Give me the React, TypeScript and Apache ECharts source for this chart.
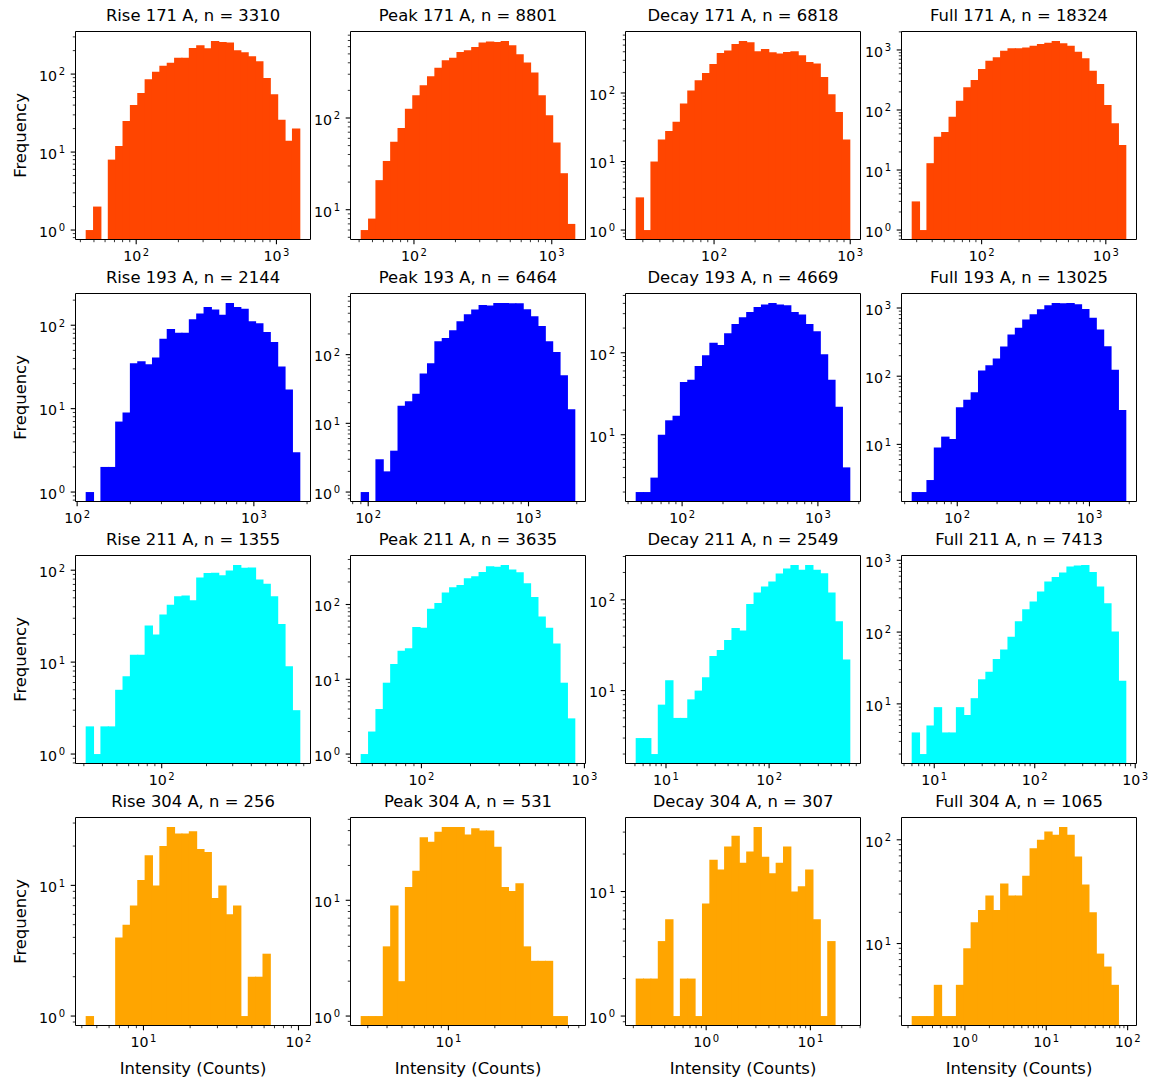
import React, { useEffect, useRef } from "react";
import * as echarts from "echarts";

// ---------- data ----------
const phases = ["Rise", "Peak", "Decay", "Full"];
const wavelengths = ["171", "193", "211", "304"];
const sampleSizes = [
  [3310, 8801, 6818, 18324],
  [2144, 6464, 4669, 13025],
  [1355, 3635, 2549, 7413],
  [256, 531, 307, 1065],
];
const wavelengthColors = ["#ff4500", "#0000ff", "#00ffff", "#ffa500"];

// 29 log-spaced bins per panel: [first edge, last edge] and counts
const rise171Range = [44, 1468];
const rise171 = [1, 2, 0, 8, 12, 25, 40, 57, 86, 107, 128, 140, 162, 162, 216, 235, 214, 266, 258, 255, 202, 190, 169, 146, 89, 55, 26, 14, 20];
const peak171Range = [41.4, 1470];
const peak171 = [6, 8, 21, 34, 55, 78, 126, 177, 227, 285, 354, 426, 455, 525, 547, 595, 664, 681, 674, 692, 621, 495, 402, 313, 177, 107, 54, 25, 7];
const decay171Range = [26.8, 993];
const decay171 = [3, 1, 10, 21, 28, 38, 70, 109, 153, 196, 266, 385, 417, 521, 575, 551, 407, 440, 394, 376, 398, 407, 356, 284, 269, 171, 96, 53, 21];
const full171Range = [27.6, 1449];
const full171 = [3, 1, 13, 36, 43, 77, 143, 239, 316, 482, 664, 755, 975, 1066, 1066, 1094, 1181, 1259, 1325, 1413, 1291, 1181, 937, 726, 452, 271, 121, 60, 26];

const rise193Range = [112.5, 1820];
const rise193 = [1, 0, 2, 2, 7, 9, 35, 37, 34, 41, 69, 90, 81, 81, 118, 138, 166, 154, 134, 185, 166, 158, 112, 106, 83, 63, 32, 17, 3];
const peak193Range = [90.4, 1945];
const peak193 = [1, 0, 3, 2, 4, 18, 21, 27, 53, 75, 156, 175, 226, 306, 386, 452, 528, 517, 565, 565, 559, 559, 457, 361, 261, 156, 109, 50, 16];
const decay193Range = [45.9, 1718];
const decay193 = [2, 2, 3, 10, 15, 17, 44, 47, 69, 93, 132, 124, 173, 225, 271, 315, 362, 387, 405, 387, 380, 315, 292, 225, 183, 96, 47, 22, 4];
const full193Range = [45.6, 1884];
const full193 = [2, 2, 3, 9, 13, 12, 35, 45, 58, 121, 145, 182, 273, 410, 514, 681, 807, 955, 1096, 1186, 1174, 1186, 1132, 966, 721, 485, 276, 124, 32];

const rise211Range = [31.1, 847];
const rise211 = [2, 1, 2, 2, 5, 7, 12, 12, 25, 20, 33, 42, 52, 53, 47, 83, 93, 94, 88, 99, 114, 106, 107, 79, 71, 52, 26, 9, 3];
const peak211Range = [42.7, 873];
const peak211 = [1, 2, 4, 9, 16, 24, 26, 50, 49, 88, 105, 145, 170, 183, 224, 239, 273, 325, 321, 338, 293, 270, 192, 126, 69, 49, 30, 9, 3];
const decay211Range = [5.14, 606];
const decay211 = [3, 3, 2, 7, 13, 5, 5, 8, 10, 14, 24, 28, 36, 49, 46, 90, 120, 140, 159, 195, 221, 242, 214, 242, 214, 196, 120, 58, 22];
const full211Range = [6.03, 806];
const full211 = [4, 2, 5, 9, 4, 4, 9, 7, 12, 22, 28, 42, 57, 86, 141, 208, 267, 367, 506, 587, 674, 817, 844, 861, 689, 431, 253, 102, 21];

const rise304Range = [4.27, 102];
const rise304 = [1, 0, 0, 0, 4, 5, 7, 11, 17, 10, 20, 28, 25, 25, 26, 19, 18, 8, 10, 6, 7, 1, 2, 2, 3, 0, 0, 0, 0];
const peak304Range = [2.72, 66];
const peak304 = [1, 1, 1, 4, 9, 2, 13, 18, 35, 32, 39, 43, 43, 43, 37, 42, 40, 40, 29, 13, 12, 14, 4, 3, 3, 3, 1, 1, 0];
const decay304Range = [0.213, 23.9];
const decay304 = [2, 2, 2, 4, 6, 1, 2, 2, 1, 8, 18, 15, 23, 28, 17, 21, 33, 19, 14, 17, 23, 10, 11, 15, 6, 1, 4, 0, 0];
const full304Range = [0.225, 95];
const full304 = [2, 2, 2, 4, 2, 2, 4, 9, 16, 21, 29, 21, 38, 29, 29, 45, 83, 100, 120, 112, 133, 112, 69, 37, 20, 8, 6, 4, 0];

const histCounts = [
  [rise171, peak171, decay171, full171],
  [rise193, peak193, decay193, full193],
  [rise211, peak211, decay211, full211],
  [rise304, peak304, decay304, full304],
];
const histRanges = [
  [rise171Range, peak171Range, decay171Range, full171Range],
  [rise193Range, peak193Range, decay193Range, full193Range],
  [rise211Range, peak211Range, decay211Range, full211Range],
  [rise304Range, peak304Range, decay304Range, full304Range],
];

const yLabel = "Frequency";
const xLabel = "Intensity (Counts)";

// ---------- layout / style ----------
const FONT = "DejaVu Sans";
const gridLefts = [75.5, 350.5, 625.5, 901.5];
const gridTops = [31.5, 293.5, 555.5, 817.5];
const gridW = 235;
const gridH = 208;
const TICK_FS = 14.2;
const SUP_FS = 10;
const BAR_OVERLAP = 0.5;

const labelRich = {
  b: { fontFamily: FONT, fontSize: TICK_FS, lineHeight: TICK_FS, color: "#000", padding: [3.6, 0, 0, 0] },
  s: { fontFamily: FONT, fontSize: SUP_FS, lineHeight: SUP_FS, color: "#000", verticalAlign: "top", padding: [0, 0, 0, 1.5] },
};

function powerLabel(v: number) {
  const e = Math.log10(v);
  const r = Math.round(e);
  if (Math.abs(e - r) > 1e-6) return "";
  return `{b|10}{s|${r}}`;
}

function logTicks(lo: number, hi: number) {
  const out: number[][] = [];
  const e0 = Math.floor(Math.log10(lo));
  const e1 = Math.ceil(Math.log10(hi));
  for (let e = e0; e <= e1; e++) {
    for (let k = 1; k <= 9; k++) {
      const v = k * Math.pow(10, e);
      if (v >= lo && v <= hi) out.push([v, k === 1 ? 1 : 0]);
    }
  }
  return out;
}

function textEl(text: string, x: number, y: number, size: number, rotation = 0) {
  return {
    type: "text",
    x,
    y,
    rotation,
    silent: true,
    style: {
      text,
      fill: "#000",
      fontSize: size,
      fontFamily: FONT,
      textAlign: "center",
      textVerticalAlign: "middle",
      align: "center",
      verticalAlign: "middle",
    },
  };
}

function buildOption() {
  const grids: any[] = [];
  const xAxes: any[] = [];
  const yAxes: any[] = [];
  const series: any[] = [];
  const texts: any[] = [];

  for (let r = 0; r < 4; r++) {
    for (let c = 0; c < 4; c++) {
      const k = r * 4 + c;
      const counts = histCounts[r][c];
      const [first, last] = histRanges[r][c];
      const l0 = Math.log10(first);
      const l1 = Math.log10(last);
      const step = (l1 - l0) / counts.length;
      const bins: number[][] = [];
      counts.forEach((n, i) => {
        if (n > 0) bins.push([Math.pow(10, l0 + i * step), Math.pow(10, l0 + (i + 1) * step), n]);
      });
      const xLo = Math.pow(10, l0 - 0.05 * (l1 - l0));
      const xHi = Math.pow(10, l1 + 0.05 * (l1 - l0));
      const pos = counts.filter((n) => n > 0);
      const m0 = Math.log10(Math.min(...pos));
      const m1 = Math.log10(Math.max(...pos));
      const yLo = Math.pow(10, m0 - 0.05 * (m1 - m0));
      const yHi = Math.pow(10, m1 + 0.05 * (m1 - m0));
      const color = wavelengthColors[r];
      const left = gridLefts[c];
      const top = gridTops[r];

      grids.push({
        left,
        top,
        width: gridW,
        height: gridH,
        show: true,
        borderColor: "#000",
        borderWidth: 1,
        backgroundColor: "transparent",
        z: 10,
      });

      const axisCommon = {
        type: "log",
        logBase: 10,
        gridIndex: k,
        axisLine: { show: false },
        axisTick: { show: false },
        minorTick: { show: false },
        splitLine: { show: false },
        minorSplitLine: { show: false },
      };
      const labelCommon = {
        show: true,
        formatter: powerLabel,
        rich: labelRich,
        hideOverlap: false,
        fontFamily: FONT,
        fontSize: TICK_FS,
        color: "#000",
      };
      xAxes.push({ ...axisCommon, min: xLo, max: xHi, axisLabel: { ...labelCommon, margin: 8 } });
      yAxes.push({ ...axisCommon, min: yLo, max: yHi, axisLabel: { ...labelCommon, margin: 10.5 } });

      series.push({
        type: "custom",
        xAxisIndex: k,
        yAxisIndex: k,
        silent: true,
        clip: false,
        z: 2,
        data: bins,
        encode: { x: [0, 1], y: 2 },
        renderItem: (params: any, api: any) => {
          const p0 = api.coord([api.value(0), api.value(2)]);
          const p1 = api.coord([api.value(1), api.value(2)]);
          const cs = params.coordSys;
          const bottom = cs.y + cs.height;
          return {
            type: "rect",
            shape: {
              x: p0[0] - BAR_OVERLAP,
              y: p0[1],
              width: p1[0] - p0[0] + 2 * BAR_OVERLAP,
              height: bottom - p0[1],
            },
            style: { fill: color },
          };
        },
      });

      const tickData: number[][] = [];
      logTicks(xLo, xHi).forEach(([v, major]) => tickData.push([v, yLo, 0, major]));
      logTicks(yLo, yHi).forEach(([v, major]) => tickData.push([xLo, v, 1, major]));
      series.push({
        type: "custom",
        xAxisIndex: k,
        yAxisIndex: k,
        silent: true,
        clip: false,
        z: 11,
        data: tickData,
        encode: { x: 0, y: 1 },
        renderItem: (params: any, api: any) => {
          const p = api.coord([api.value(0), api.value(1)]);
          const major = api.value(3) === 1;
          const len = major ? 4.8 : 2.7;
          const lw = major ? 1.1 : 0.8;
          const isX = api.value(2) === 0;
          return {
            type: "line",
            shape: isX
              ? { x1: p[0], y1: p[1], x2: p[0], y2: p[1] + len }
              : { x1: p[0] - len, y1: p[1], x2: p[0], y2: p[1] },
            style: { stroke: "#000", lineWidth: lw },
          };
        },
      });

      const title = `${phases[c]} ${wavelengths[r]} A, n = ${sampleSizes[r][c]}`;
      texts.push(textEl(title, left + gridW / 2, top - 16.2, 16.4));
      if (c === 0) texts.push(textEl(yLabel, 20.5, top + gridH / 2, 16.4, Math.PI / 2));
      if (r === 3) texts.push(textEl(xLabel, left + gridW / 2, 1068, 16.4));
    }
  }

  return {
    animation: false,
    backgroundColor: "#fff",
    grid: grids,
    xAxis: xAxes,
    yAxis: yAxes,
    series,
    graphic: texts,
  };
}

export default function App() {
  const ref = useRef<HTMLDivElement>(null);
  useEffect(() => {
    const chart = echarts.init(ref.current as HTMLDivElement, null, { renderer: "svg" });
    chart.setOption(buildOption() as any);
    return () => chart.dispose();
  }, []);
  return (
    <div
      ref={ref}
      style={{ position: "absolute", left: 0, top: 0, width: 1156, height: 1082, background: "#fff" }}
    />
  );
}
